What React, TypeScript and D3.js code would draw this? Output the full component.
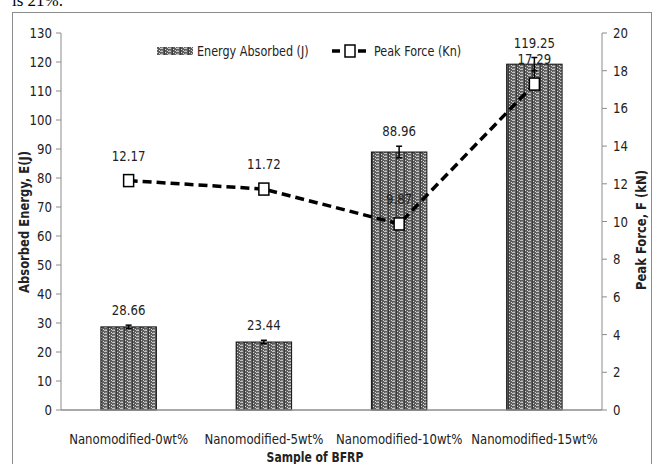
import React from 'react';
import * as d3 from 'd3';

const categories = ['Nanomodified-0wt%', 'Nanomodified-5wt%', 'Nanomodified-10wt%', 'Nanomodified-15wt%'];
const energy = [28.66, 23.44, 88.96, 119.25];
const energyErr = [0.6, 0.6, 2.0, 2.3];
const peakForce = [12.17, 11.72, 9.87, 17.29];
const peakErr = [0.1, 0.1, 0.1, 0.8];
const leftTicks = d3.range(0, 131, 10);
const rightTicks = d3.range(0, 21, 2);

const W = 662;
const H = 464;
const m = {left: 61, right: 602, top: 33, bottom: 410};
const font = '"DejaVu Sans Condensed", "Liberation Sans", sans-serif';

// condensed text, to mimic the narrow look of the original font
const T = ({x, y, anchor = 'start', sx = 0.9, bold = false, rotate = 0, size = 14.5, children}) => (
    <text transform={`translate(${x},${y}) rotate(${rotate}) scale(${sx},1)`} textAnchor={anchor}
          fontFamily={font} fontSize={size} fontWeight={bold ? 'bold' : 'normal'} fill="#222">{children}</text>
);

export default function App() {
    const x = d3.scaleBand().domain(categories).range([m.left, m.right]);
    const yL = d3.scaleLinear().domain([0, 130]).range([m.bottom, m.top]);
    const yR = d3.scaleLinear().domain([0, 20]).range([m.bottom, m.top]);
    const bw = x.bandwidth() * 0.41;
    const cx = (c) => x(c) + x.bandwidth() / 2;

    const line = d3.line()
        .x((d, i) => cx(categories[i]))
        .y((d) => yR(d));

    return (
        <svg width={W} height={H} style={{position: 'absolute', left: 0, top: 0}}>
            <defs>
                <pattern id="weave" width="8" height="3" patternUnits="userSpaceOnUse">
                    <rect width="8" height="3" fill="#5e5e5e"/>
                    <rect x="0" y="0" width="3" height="1" fill="#c4c4c4"/>
                    <rect x="4" y="0" width="1" height="3" fill="#3a3a3a"/>
                    <rect x="5" y="1" width="1" height="1" fill="#d8d8d8"/>
                    <rect x="7" y="2" width="1" height="1" fill="#d8d8d8"/>
                    <rect x="1" y="2" width="2" height="1" fill="#8a8a8a"/>
                </pattern>
            </defs>
            <rect width={W} height={H} fill="#fff"/>
            <text x={12} y={6} fontFamily="'Liberation Serif', serif" fontSize={17}>is 21%.</text>
            <rect x={12.5} y={12.5} width={639} height={470} fill="none" stroke="#8c8c8c"/>

            {/* left axis */}
            <line x1={m.left} x2={m.left} y1={m.top} y2={m.bottom} stroke="#8c8c8c"/>
            {leftTicks.map((t) => (
                <g key={'l' + t}>
                    <line x1={m.left - 5} x2={m.left} y1={yL(t)} y2={yL(t)} stroke="#8c8c8c"/>
                    <T x={m.left - 9} y={yL(t) + 5} anchor="end">{t}</T>
                </g>
            ))}
            {/* right axis */}
            <line x1={m.right} x2={m.right} y1={m.top} y2={m.bottom} stroke="#8c8c8c"/>
            {rightTicks.map((t) => (
                <g key={'r' + t}>
                    <line x1={m.right} x2={m.right + 5} y1={yR(t)} y2={yR(t)} stroke="#8c8c8c"/>
                    <T x={m.right + 11} y={yR(t) + 5}>{t}</T>
                </g>
            ))}

            {/* bars */}
            {categories.map((c, i) => (
                <g key={c}>
                    <rect x={cx(c) - bw / 2} y={yL(energy[i])} width={bw} height={m.bottom - yL(energy[i])}
                          fill="url(#weave)" stroke="#111" strokeWidth={1}/>
                    <line x1={cx(c)} x2={cx(c)} y1={yL(energy[i] + energyErr[i])} y2={yL(energy[i] - energyErr[i])} stroke="#000" strokeWidth={1.5}/>
                    <line x1={cx(c) - 3} x2={cx(c) + 3} y1={yL(energy[i] + energyErr[i])} y2={yL(energy[i] + energyErr[i])} stroke="#000" strokeWidth={1.5}/>
                    <line x1={cx(c) - 3} x2={cx(c) + 3} y1={yL(energy[i] - energyErr[i])} y2={yL(energy[i] - energyErr[i])} stroke="#000" strokeWidth={1.5}/>
                    <T x={cx(c)} y={yL(energy[i] + energyErr[i]) - 10} anchor="middle">{energy[i].toFixed(2)}</T>
                </g>
            ))}

            {/* x axis */}
            <line x1={m.left} x2={m.right} y1={m.bottom} y2={m.bottom} stroke="#8c8c8c" strokeWidth={1.5}/>
            {categories.map((c) => (
                <T key={'x' + c} x={cx(c)} y={444} anchor="middle" sx={0.9}>{c}</T>
            ))}

            {/* peak force line */}
            <path d={line(peakForce)} fill="none" stroke="#000" strokeWidth={3.5} strokeDasharray="9,5"/>
            {categories.map((c, i) => (
                <g key={'p' + c}>
                    <line x1={cx(c)} x2={cx(c)} y1={yR(peakForce[i] + peakErr[i])} y2={yR(peakForce[i])} stroke="#000" strokeWidth={1.2}/>
                    <rect x={cx(c) - 5} y={yR(peakForce[i]) - 6} width={10} height={12} fill="#fff" stroke="#000" strokeWidth={1.5}/>
                    <T x={cx(c)} y={yR(peakForce[i]) - 20} anchor="middle">{peakForce[i].toFixed(2)}</T>
                </g>
            ))}

            {/* legend */}
            <rect x={157} y={47} width={36} height={8} fill="url(#weave)"/>
            <T x={197} y={56} sx={0.86}>Energy Absorbed (J)</T>
            <line x1={331} x2={369} y1={51} y2={51} stroke="#000" strokeWidth={3.5} strokeDasharray="8,5" strokeDashoffset={-1}/>
            <rect x={345} y={45} width={10} height={12} fill="#fff" stroke="#000" strokeWidth={1.5}/>
            <T x={374} y={56} sx={0.86}>Peak Force (Kn)</T>

            {/* axis titles */}
            <T x={29} y={222} rotate={-90} anchor="middle" bold sx={0.92} size={14}>Absorbed Energy, E(J)</T>
            <T x={646} y={230} rotate={-90} anchor="middle" bold sx={0.92} size={14}>Peak Force, F (kN)</T>
            <T x={315} y={462} anchor="middle" bold sx={0.86} size={14}>Sample of BFRP</T>
        </svg>
    );
}
